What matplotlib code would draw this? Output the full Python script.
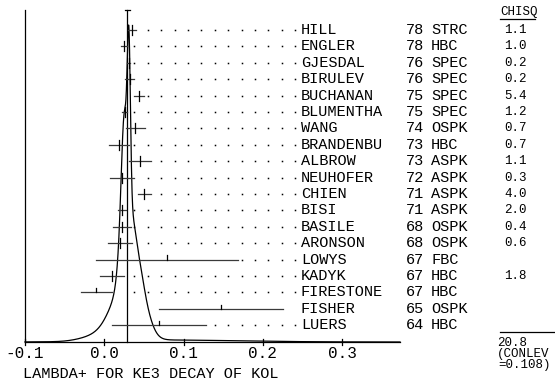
import numpy as np
import matplotlib
matplotlib.use("Agg")
import matplotlib.pyplot as plt

# ---------------- data ----------------
names = ["HILL", "ENGLER", "GJESDAL", "BIRULEV", "BUCHANAN", "BLUMENTHA", "WANG",
         "BRANDENBU", "ALBROW", "NEUHOFER", "CHIEN", "BISI", "BASILE", "ARONSON",
         "LOWYS", "KADYK", "FIRESTONE", "FISHER", "LUERS"]
years = ["78", "78", "76", "76", "75", "75", "74", "73", "73", "72", "71", "71",
         "68", "68", "67", "67", "67", "65", "64"]
techs = ["STRC", "HBC", "SPEC", "SPEC", "SPEC", "SPEC", "OSPK", "HBC", "ASPK", "ASPK",
         "ASPK", "ASPK", "OSPK", "OSPK", "FBC", "HBC", "HBC", "OSPK", "HBC"]
values = [0.035, 0.0245, 0.031, 0.032, 0.0435, 0.0257, 0.039, 0.019, 0.0447, 0.0224,
          0.0506, 0.0224, 0.0224, 0.0194, 0.079, 0.0097, -0.010, 0.147, 0.069]
errors = [0.005, 0.004, 0.002, 0.006, 0.006, 0.0035, 0.012, 0.0125, 0.0137, 0.015,
          0.0086, 0.0053, 0.0114, 0.015, 0.090, 0.0148, 0.020, 0.078, 0.059]
chisq = ["1.1", "1.0", "0.2", "0.2", "5.4", "1.2", "0.7", "0.7", "1.1", "0.3",
         "4.0", "2.0", "0.4", "0.6", None, "1.8", None, None, None]
mean_value = 0.029
mean_error = 0.003
chisq_total = "20.8"
conlev = "0.108"
xticks = [-0.1, 0.0, 0.1, 0.2, 0.3]
xlabel = "LAMBDA+ FOR KE3 DECAY OF KOL"

# ---------------- layout helpers ----------------
W, H = 555, 382
fig = plt.figure(figsize=(W / 100, H / 100), dpi=100)
ax = fig.add_axes([0, 0, 1, 1])
ax.axis("off")
PX = 793.0                      # pixels per data unit
X0 = -0.1 - 25 / PX
ax.set_xlim(X0, X0 + W / PX)
ROW0, DROW = 30.0, 16.4
ax.set_ylim((H - ROW0) / DROW, -ROW0 / DROW)


def px_x(p):
    return X0 + p / PX


def px_y(p):
    return (p - ROW0) / DROW


MONO = ["Liberation Mono", "DejaVu Sans Mono"]
FONT = dict(family=MONO, fontsize=11, color="black")
FONT_S = dict(family=MONO, fontsize=9, color="black")
LW = 0.9
base = px_y(342)
xend = px_x(400)

# axes frame
ax.plot([-0.1, xend], [base, base], color="black", lw=LW)
ax.plot([-0.1, -0.1], [px_y(10), base], color="black", lw=LW)
for t in xticks:
    ax.plot([t, t], [base - 0.18, base + 0.18], color="black", lw=LW)
    ax.text(t, px_y(358), f"{t:.1f}", ha="center", va="baseline",
            family=MONO, fontsize=11.5, color="black")
ax.text(px_x(23), px_y(378), xlabel, ha="left", va="baseline", **FONT)

# ideogram (one gaussian per measurement, weighted by its precision)
rows = np.arange(len(names))
xs = np.linspace(-0.1, xend, 4000)
dens = np.zeros_like(xs)
for v, e in zip(values, errors):
    dens += e ** -1.5 * np.exp(-0.5 * ((xs - v) / e) ** 2)
peak = (342 - 25) / DROW
ax.plot(xs, base - dens / dens.max() * peak, color="black", lw=LW)

# mean line
ax.plot([mean_value, mean_value], [px_y(10), base], color="black", lw=LW)
ax.plot([mean_value - mean_error, mean_value + mean_error], [px_y(10), px_y(10)],
        color="black", lw=LW)

# measurements + leaders
dot_x0 = px_x(134.3)
dot_step = 13.4 / PX
dot_grid = dot_x0 + dot_step * np.arange(0, 13)
dot_grid = dot_grid[dot_grid <= px_x(296)]
for r, v, e, c in zip(rows, values, errors, chisq):
    ax.plot([v - e, v + e], [r, r], color="#3a3a3a", lw=LW)
    if c is not None:
        ax.plot([v, v], [r - 0.3, r + 0.3], color="black", lw=LW)
    else:
        ax.plot([v, v], [r - 0.25, r], color="black", lw=LW)
    end = v + e
    if end < 0.2:
        d = dot_grid[dot_grid > end + 3 / PX]
        ax.plot(d, np.full_like(d, r), ls="none", marker="s", ms=1.1,
                color="black", mew=0)

# text columns
for r, n, y, t, c in zip(rows, names, years, techs, chisq):
    ax.text(px_x(301), r, n, ha="left", va="center", **FONT)
    ax.text(px_x(406), r, y, ha="left", va="center", **FONT)
    ax.text(px_x(431), r, t, ha="left", va="center", **FONT)
    if c is not None:
        ax.text(px_x(527), r, c, ha="right", va="center", **FONT_S)

ax.text(px_x(500), px_y(11.5), "CHISQ", ha="left", va="center", **FONT_S)
ax.plot([px_x(500), px_x(535)], [px_y(18.5), px_y(18.5)], color="black", lw=LW)
ax.plot([px_x(500), px_x(554)], [px_y(331.5), px_y(331.5)], color="black", lw=LW)
ax.text(px_x(527), px_y(343), chisq_total, ha="right", va="center", **FONT_S)
ax.text(px_x(497), px_y(354), "(CONLEV", ha="left", va="center", **FONT_S)
ax.text(px_x(498), px_y(365), "=" + conlev + ")", ha="left", va="center", **FONT_S)

fig.savefig("out.png", dpi=100, facecolor="white")
